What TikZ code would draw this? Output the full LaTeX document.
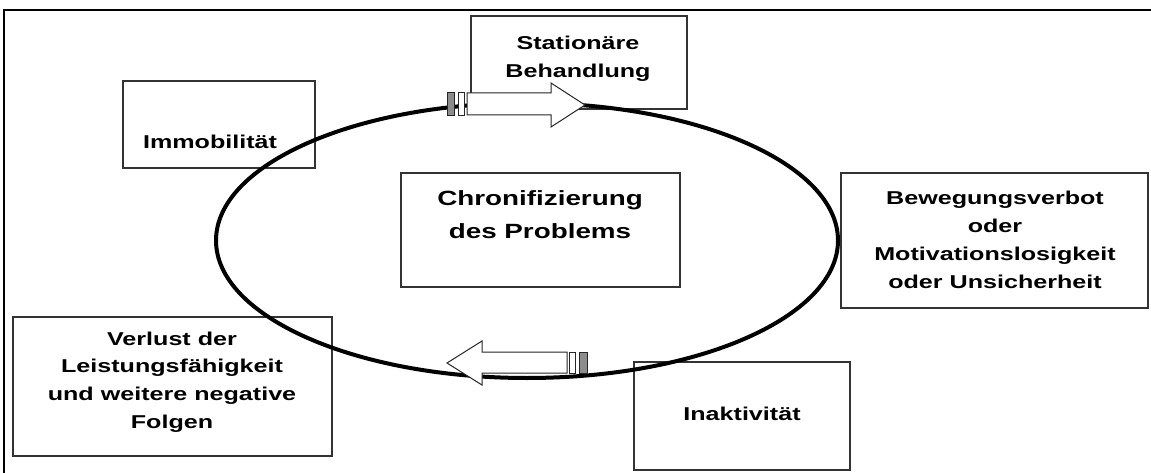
\documentclass[tikz,border=0pt]{standalone}
\usepackage{fontspec}
\setmainfont{Liberation Sans}[FakeStretch=1.35]
\begin{document}
\begin{tikzpicture}[x=1pt,y=-1pt,
  box/.style={draw=black!80, line width=1.2pt, fill=white, inner sep=0pt},
  lbl/.style={font=\fontsize{18.6}{27.8}\selectfont\bfseries, align=center, inner sep=0pt, text=black},
  biglbl/.style={font=\fontsize{20.6}{33}\selectfont\bfseries, align=center, inner sep=0pt, text=black},
  blockarrow/.style={draw=black!85, line width=1pt, fill=white},
  stripe/.style={draw=black!85, line width=0.8pt, fill=white},
  darkstripe/.style={draw=black!85, line width=0.8pt, fill=black!45},
  cycleline/.style={line width=4pt, black}]
\useasboundingbox (0,0) rectangle (1151,473);
\fill[white] (0,0) rectangle (1151,473);
\draw[line width=1.8pt] (4,473) -- (4,10) -- (1151,10);

% boxes
\node[box, minimum width=216pt, minimum height=93pt] (stat) at (579,62.5) {};
\node[box, minimum width=192pt, minimum height=87pt] (immo) at (219,124.5) {};
\node[box, minimum width=279pt, minimum height=114pt] (chron) at (540.5,230) {};
\node[box, minimum width=307pt, minimum height=135pt] (beweg) at (994.5,240.5) {};
\node[box, minimum width=319pt, minimum height=139pt] (verl) at (172.5,386.5) {};
\node[box, minimum width=216pt, minimum height=108pt] (inak) at (742,416) {};

% texts
\node[lbl] (stat-t) at (578,59) {Stationäre\\Behandlung};
\node[lbl] (immo-t) at (210,142) {Immobilität};
\node[biglbl] (chron-t) at (540,215) {Chronifizierung\\des Problems};
\node[lbl] (beweg-t) at (995,240) {Bewegungsverbot\\oder\\Motivationslosigkeit\\oder Unsicherheit};
\node[lbl] (verl-t) at (172,382) {Verlust der\\Leistungsfähigkeit\\und weitere negative\\Folgen};
\node[lbl] (inak-t) at (742,414) {Inaktivität};

% cycle
\draw[cycleline] (527,240.5) ellipse [x radius=311, y radius=137.5];

% top striped arrow (pointing right)
\draw[darkstripe] (447,92) rectangle (454,115);
\draw[stripe] (458,92) rectangle (464,115);
\draw[blockarrow] (467,93) -- (551,93) -- (551,83) -- (585,105) -- (551,127) -- (551,115) -- (467,115) -- cycle;

% bottom striped arrow (pointing left)
\draw[stripe] (569,352) rectangle (575,373);
\draw[darkstripe] (579,352) rectangle (587,373);
\draw[blockarrow] (567,352) -- (482,352) -- (482,341) -- (447,363) -- (482,385) -- (482,373) -- (567,373) -- cycle;
\end{tikzpicture}
\end{document}
